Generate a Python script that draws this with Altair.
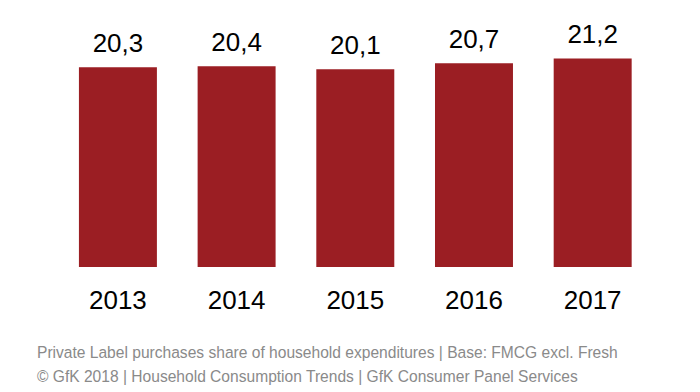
import altair as alt
import pandas as pd

years = ["2013", "2014", "2015", "2016", "2017"]
values = [20.3, 20.4, 20.1, 20.7, 21.2]
labels = ["20,3", "20,4", "20,1", "20,7", "21,2"]
footnote = [
    "Private Label purchases share of household expenditures | Base: FMCG excl. Fresh",
    "© GfK 2018 | Household Consumption Trends | GfK Consumer Panel Services",
]

df = pd.DataFrame({"year": years, "value": values, "label": labels})

FONT = "Liberation Sans"
BAR = "#9b1e23"

x = alt.X(
    "year:N",
    title=None,
    scale=alt.Scale(paddingInner=0.343, paddingOuter=0.1715),
    axis=alt.Axis(
        domain=False, ticks=False, tickSize=0, labelAngle=0,
        labelFontSize=26, labelFont=FONT, labelColor="#000000",
        labelBaseline="alphabetic", labelPadding=42, grid=False,
    ),
)
y = alt.Y("value:Q", scale=alt.Scale(domain=[0, 26.32], nice=False, zero=True), axis=None)

bars = alt.Chart(df).mark_bar(color=BAR).encode(x=x, y=y)
text = alt.Chart(df).mark_text(
    font=FONT, fontSize=26, color="#000000", baseline="alphabetic", dy=-15
).encode(x=x, y=y, text="label:N")

chart = (
    (bars + text)
    .properties(
        width=593.75,
        height=259,
        autosize=alt.AutoSizeParams(type="none"),
        padding={"left": 50.6, "top": 0, "right": 40, "bottom": 120},
        view=alt.ViewBackground(stroke="transparent", strokeWidth=0),
        title=alt.TitleParams(
            text=footnote, orient="bottom", anchor="start", dx=-21.6, offset=44,
            font=FONT, fontSize=15.6, fontWeight="normal", color="#8a8a8a",
            lineHeight=24, baseline="alphabetic",
        ),
    )
    .configure_view(strokeWidth=0, stroke="transparent")
    .configure(background="#ffffff", style={"cell": {"stroke": "transparent", "strokeWidth": 0}})
)

chart.save("out.html", embed_options={"renderer": "svg", "actions": False})
